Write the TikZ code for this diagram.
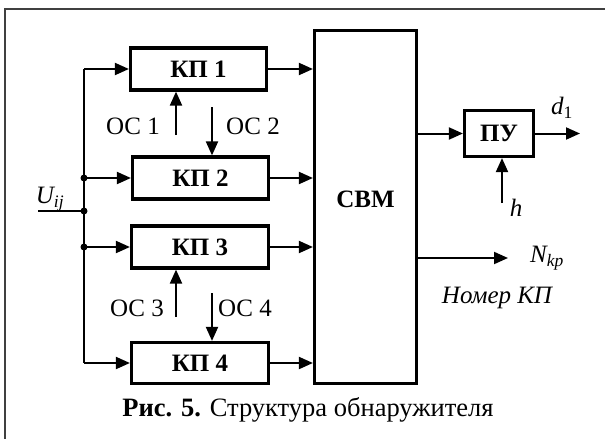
\documentclass[tikz,border=0pt]{standalone}
\usepackage{fontspec}
\setmainfont{Liberation Serif}
\usetikzlibrary{arrows.meta}
\tikzset{
  blk/.style={draw, line width=3.2pt, inner sep=0pt, font=\bfseries\fontsize{25}{27}\selectfont},
  btxt/.style={inner sep=0pt, font=\bfseries\fontsize{25}{27}\selectfont},
  arr/.style={line width=2pt, -{Triangle[length=14pt,width=12pt]}},
  ln/.style={line width=2pt},
  lbl/.style={inner sep=0pt, font=\fontsize{25}{27}\selectfont},
  ilbl/.style={inner sep=0pt, font=\itshape\fontsize{25}{27}\selectfont},
  dotc/.style={fill, circle, minimum size=7pt, inner sep=0pt}
}
\begin{document}
\begin{tikzpicture}[x=1pt,y=-1pt]
\useasboundingbox (0,0) rectangle (605,439);
\clip (0,0) rectangle (605,439);
\draw[line width=1.6pt, black!75] (5,9) rectangle (700,520);
% blocks
\node[blk, minimum width=136pt, minimum height=42pt] (kp1) at (198.5,69) {КП 1};
\node[blk, minimum width=136pt, minimum height=42pt] (kp2) at (200.5,178) {КП 2};
\node[blk, minimum width=137pt, minimum height=42pt] (kp3) at (200,247) {КП 3};
\node[blk, minimum width=137pt, minimum height=41pt] (kp4) at (200,363) {КП 4};
\node[blk, minimum width=102pt, minimum height=353pt] (cbm) at (365.5,207) {};
\node[btxt] (cbmt) at (365.5,199) {СВМ};
\node[blk, minimum width=69pt, minimum height=46pt] (pu) at (499,133.5) {ПУ};
% bus
\coordinate (b1) at (84,69);
\coordinate (b4) at (84,363);
\coordinate (in) at (38,211);
\node[dotc] (d2) at (84,178) {};
\node[dotc] (du) at (84,211) {};
\node[dotc] (d3) at (84,247) {};
\draw[ln] (b1) -- (b4);
\draw[arr] (b1) -- (kp1.west);
\draw[arr] (d2.center) -- (kp2.west);
\draw[arr] (d3.center) -- (kp3.west);
\draw[arr] (b4) -- (kp4.west);
\draw[ln] (in) -- (du.center);
\node[ilbl] (u) at (50,199) {U\textsubscript{\itshape ij}};
% outputs to CBM
\draw[arr] (kp1.east) -- (kp1.east -| cbm.west);
\draw[arr] (kp2.east) -- (kp2.east -| cbm.west);
\draw[arr] (kp3.east) -- (kp3.east -| cbm.west);
\draw[arr] (kp4.east) -- (kp4.east -| cbm.west);
% feedback
\coordinate (oc1) at (176,135);
\coordinate (oc2) at (212,107);
\coordinate (oc3) at (176,317);
\coordinate (oc4) at (212,293);
\draw[arr] (oc1) -- (oc1 |- kp1.south);
\draw[arr] (oc2) -- (oc2 |- kp2.north);
\draw[arr] (oc3) -- (oc3 |- kp3.south);
\draw[arr] (oc4) -- (oc4 |- kp4.north);
\node[lbl] (t1) at (133,126) {ОС 1};
\node[lbl] (t2) at (253,126) {ОС 2};
\node[lbl] (t3) at (137,308) {ОС 3};
\node[lbl] (t4) at (245,308) {ОС 4};
% PU
\draw[arr] (cbm.east |- pu.west) -- (pu.west);
\coordinate (dout) at (580,133.5);
\draw[arr] (pu.east) -- (dout);
\node[ilbl] (dl) at (562,108) {d\textsubscript{\upshape 1}};
\coordinate (hin) at (502,203);
\draw[arr] (hin) -- (hin |- pu.south);
\node[ilbl] (hl) at (516,208) {h};
% Nkp
\coordinate (nout) at (508,258);
\draw[arr] (cbm.east |- nout) -- (nout);
\node[ilbl] (nl) at (547,258) {N\textsubscript{\itshape kp}};
\node[ilbl] (nm) at (497,298) {Номер КП};
% caption
\node[inner sep=0pt, font=\fontsize{26.5}{28}\selectfont] (cap) at (308,410) {\textbf{Рис. 5.} Структура обнаружителя};
\end{tikzpicture}
\end{document}
